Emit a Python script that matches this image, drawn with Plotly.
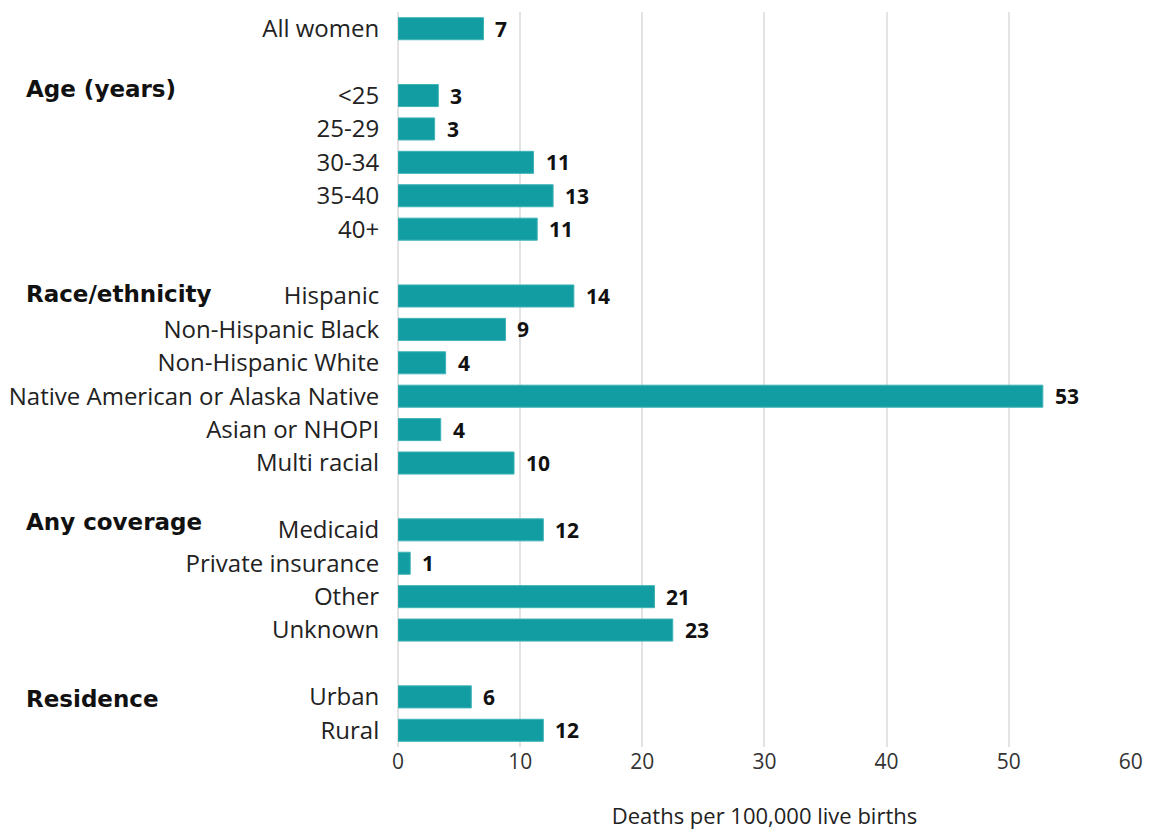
import plotly.graph_objects as go

categories = ["All women",
              "<25", "25-29", "30-34", "35-40", "40+",
              "Hispanic", "Non-Hispanic Black", "Non-Hispanic White",
              "Native American or Alaska Native", "Asian or NHOPI", "Multi racial",
              "Medicaid", "Private insurance", "Other", "Unknown",
              "Urban", "Rural"]
rows = [0, 2, 3, 4, 5, 6, 8, 9, 10, 11, 12, 13, 15, 16, 17, 18, 20, 21]
values = [7.0, 3.3, 3.0, 11.1, 12.7, 11.4, 14.4, 8.8, 3.9, 52.8, 3.5, 9.5,
          11.9, 1.0, 21.0, 22.5, 6.0, 11.9]
labels = ["7", "3", "3", "11", "13", "11", "14", "9", "4", "53", "4", "10",
          "12", "1", "21", "23", "6", "12"]
groups = ["Age (years)", "Race/ethnicity", "Any coverage", "Residence"]
group_rows = [1.8, 7.95, 14.77, 20.05]
x_ticks = [0, 10, 20, 30, 40, 50, 60]

BAR = "#129DA2"
label_font = "Open Sans"

W, H = 1149, 830
ML, MR, MT, MB = 398, 18, 12, 83

fig = go.Figure()
fig.add_trace(go.Bar(
    x=values, y=rows, orientation="h", width=0.66,
    marker=dict(color=BAR, line=dict(color="#3FB3B6", width=1)),
    hoverinfo="skip",
))

for v, r, t in zip(values, rows, labels):
    fig.add_annotation(x=v, y=r, text="<b>" + t + "</b>", showarrow=False, xanchor="left",
                       xshift=10, font=dict(family=label_font, size=21, color="#111111"),
                       xref="x", yref="y")
plot_w = W - ML - MR
for g, r in zip(groups, group_rows):
    fig.add_annotation(x=(24 - ML) / plot_w, y=r, text="<b>" + g + "</b>", showarrow=False,
                       xanchor="left", xref="paper", yref="y",
                       font=dict(family="DejaVu Sans", size=23, color="#111111"))

fig.update_layout(
    width=W, height=H,
    margin=dict(l=ML, r=MR, t=MT, b=MB, autoexpand=False),
    plot_bgcolor="white", paper_bgcolor="white",
    showlegend=False,
    font=dict(family=label_font, size=20, color="#222222"),
    xaxis=dict(range=[0, 60.02], tickvals=x_ticks, showgrid=True, gridcolor="#E3E3E3",
               gridwidth=1.5, zeroline=True, zerolinecolor="#E3E3E3", zerolinewidth=1.5,
               showline=False, ticklabeloverflow="allow", automargin=False,
               tickfont=dict(size=21, color="#333333"), ticks="",
               title=dict(text="Deaths per 100,000 live births", standoff=40,
                          font=dict(size=22, color="#222222"))),
    yaxis=dict(range=[21.5, -0.5], tickvals=rows, ticktext=categories,
               showgrid=False, zeroline=False, showline=False, automargin=False,
               ticks="outside", ticklen=13, tickcolor="rgba(0,0,0,0)",
               tickfont=dict(size=24, color="#222222")),
)

fig.write_html("out.html", config={"displayModeBar": False},
               post_script="document.body.style.margin='0px';")
